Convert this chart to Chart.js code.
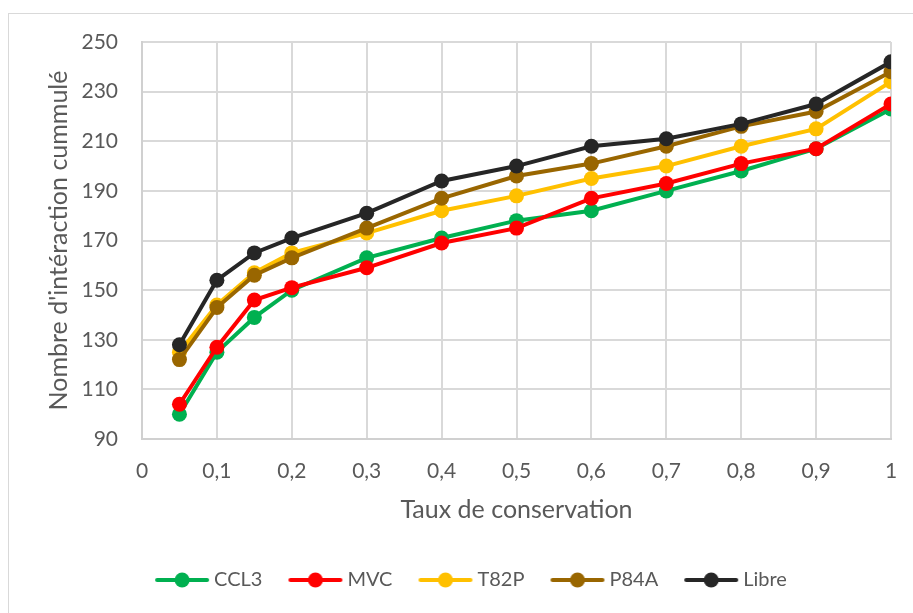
<!DOCTYPE html>
<html lang="fr">
<head>
<meta charset="utf-8">
<script src="https://cdn.jsdelivr.net/npm/chart.js@4/dist/chart.umd.min.js"></script>
<style>
  html, body { margin: 0; padding: 0; background: #fff; overflow: hidden; }
  #frame { position: absolute; left: 8px; top: 13px; width: 1200px; height: 1200px; border: 1px solid #d9d9d9; }
  #wrap { position: absolute; left: 0; top: 0; width: 913px; height: 613px; }
</style>
</head>
<body>
<div id="frame"></div>
<div id="wrap"><canvas id="lineChart"></canvas></div>
<script>
"use strict";

// Taux de conservation (axe x)
const taux = [0.05, 0.1, 0.15, 0.2, 0.3, 0.4, 0.5, 0.6, 0.7, 0.8, 0.9, 1];

// Nombre d'intéraction cummulé par série
const ccl3  = [100, 125, 139, 150, 163, 171, 178, 182, 190, 198, 207, 223];
const mvc   = [104, 127, 146, 151, 159, 169, 175, 187, 193, 201, 207, 225];
const t82p  = [125, 144, 157, 165, 173, 182, 188, 195, 200, 208, 215, 234];
const p84a  = [122, 143, 156, 163, 175, 187, 196, 201, 208, 216, 222, 238];
const libre = [128, 154, 165, 171, 181, 194, 200, 208, 211, 217, 225, 242];

const seriesNames  = ["CCL3", "MVC", "T82P", "P84A", "Libre"];
const seriesColors = ["#00B050", "#FF0000", "#FFC000", "#996600", "#262626"];

const xTickLabels = ["0", "0,1", "0,2", "0,3", "0,4", "0,5", "0,6", "0,7", "0,8", "0,9", "1"];
const yTicks = [90, 110, 130, 150, 170, 190, 210, 230, 250];

const textColor = "#595959";
const fontFamily = "Lato, 'Open Sans', sans-serif";

/**
 * Petit glyphe de légende: trait + rond, comme dans Excel.
 */
function legendGlyph(color) {
    const c = document.createElement("canvas");
    c.width = 56;
    c.height = 18;
    const g = c.getContext("2d");
    g.strokeStyle = color;
    g.lineWidth = 4;
    g.lineCap = "round";
    g.beginPath();
    g.moveTo(3, 9);
    g.lineTo(53, 9);
    g.stroke();
    g.fillStyle = color;
    g.beginPath();
    g.arc(28, 9, 7.5, 0, Math.PI * 2);
    g.fill();
    return c;
}

function toPoints(values) {
    return values.map((v, i) => ({ x: taux[i], y: v }));
}

const allValues = [ccl3, mvc, t82p, p84a, libre];

const datasets = allValues.map((values, i) => ({
    label: seriesNames[i],
    data: toPoints(values),
    borderColor: seriesColors[i],
    backgroundColor: seriesColors[i],
    pointBackgroundColor: seriesColors[i],
    pointBorderColor: seriesColors[i],
    borderWidth: 4,
    pointRadius: 7.5,
    pointBorderWidth: 0,
    tension: 0,
    order: allValues.length - 1 - i
}));

// décale la légende horizontalement, comme dans l'original
const legendShift = {
    id: "legendShift",
    afterLayout(chart) {
        const lg = chart.legend;
        if (lg) {
            lg.left += 28;
            lg.right += 28;
        }
    }
};

const ctx = document.getElementById("lineChart");

new Chart(ctx, {
    type: "line",
    data: { datasets: datasets },
    plugins: [legendShift],
    options: {
        responsive: true,
        maintainAspectRatio: false,
        animation: false,
        events: [],
        layout: {
            autoPadding: false,
            padding: { left: 0, right: 22, top: 42, bottom: 13 }
        },
        scales: {
            x: {
                type: "linear",
                min: 0,
                max: 1,
                afterBuildTicks: axis => {
                    axis.ticks = xTickLabels.map((t, i) => ({ value: i / 10 }));
                },
                afterFit: axis => {
                    axis.height = 100;
                    axis.paddingRight = 0;
                },
                ticks: {
                    color: textColor,
                    font: { family: fontFamily, size: 21 },
                    padding: 20,
                    maxRotation: 0,
                    autoSkip: false,
                    callback: (value, index) => xTickLabels[index]
                },
                grid: { color: "#d9d9d9", lineWidth: 2, drawTicks: false },
                border: { color: "#d0d0d0", width: 2 },
                title: {
                    display: true,
                    text: "Taux de conservation",
                    color: textColor,
                    font: { family: fontFamily, size: 25 },
                    padding: { top: 0, bottom: 14 }
                }
            },
            y: {
                min: 90,
                max: 250,
                afterBuildTicks: axis => {
                    axis.ticks = yTicks.map(v => ({ value: v }));
                },
                afterFit: axis => { axis.width = 142; },
                ticks: {
                    color: textColor,
                    font: { family: fontFamily, size: 21 },
                    padding: 24
                },
                grid: { color: "#d9d9d9", lineWidth: 2, drawTicks: false },
                border: { color: "#d0d0d0", width: 2 },
                title: {
                    display: true,
                    text: "Nombre d'intéraction cummulé",
                    color: textColor,
                    font: { family: fontFamily, size: 25 },
                    padding: { top: 44, bottom: 0 }
                }
            }
        },
        plugins: {
            tooltip: { enabled: false },
            legend: {
                position: "bottom",
                labels: {
                    color: textColor,
                    font: { family: fontFamily, size: 20 },
                    usePointStyle: true,
                    pointStyleWidth: 44,
                    padding: 31,
                    generateLabels: chart => chart.data.datasets.map((ds, i) => ({
                        text: ds.label,
                        pointStyle: legendGlyph(seriesColors[i]),
                        fillStyle: seriesColors[i],
                        strokeStyle: seriesColors[i],
                        fontColor: textColor,
                        lineWidth: 0,
                        hidden: false,
                        datasetIndex: i
                    }))
                }
            }
        }
    }
});
</script>
</body>
</html>
